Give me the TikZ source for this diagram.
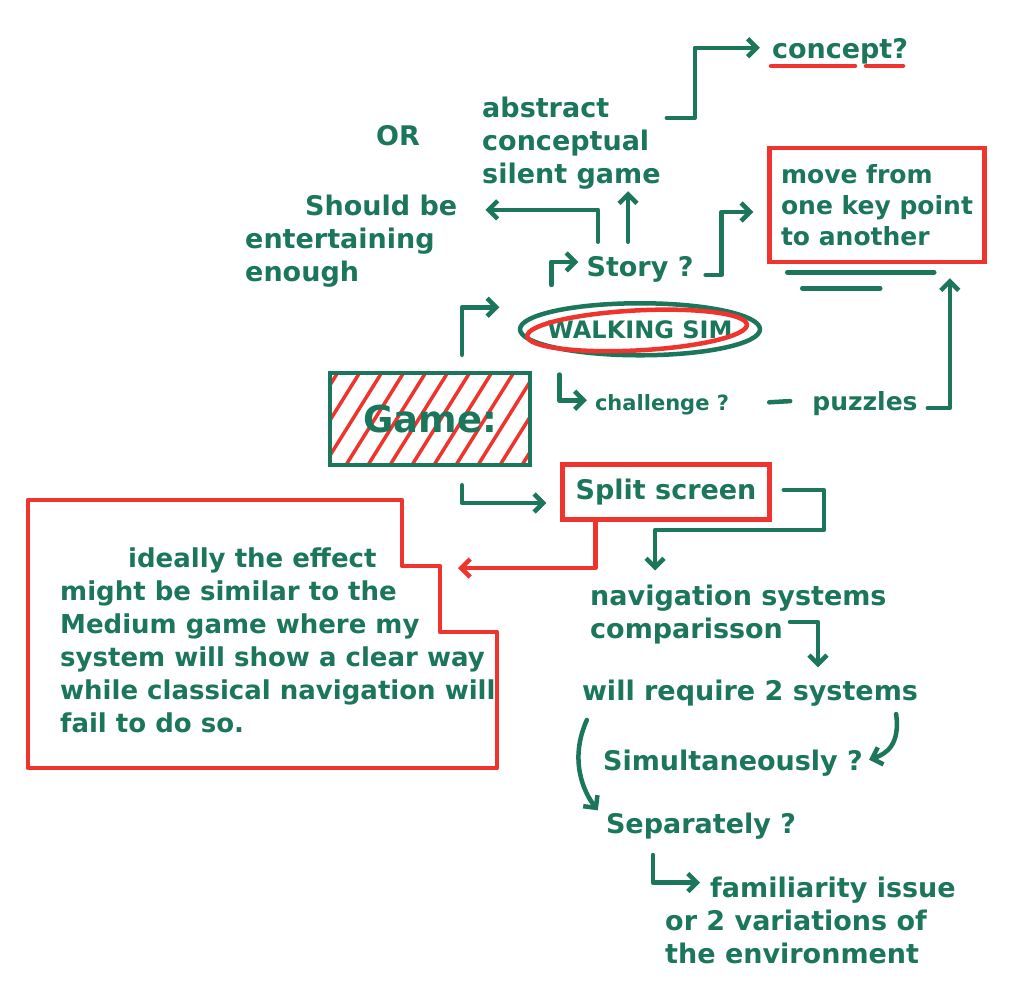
\documentclass[tikz,border=0pt]{standalone}
\usepackage{fontspec}
\setmainfont{DejaVu Sans}
\usetikzlibrary{arrows.meta,calc}
\definecolor{grn}{RGB}{27,118,92}
\definecolor{rd}{RGB}{238,52,44}
\begin{document}
\begin{tikzpicture}[x=1pt,y=-1pt,
  txt/.style={text=grn, inner sep=0pt, font=\fontsize{27}{33}\selectfont\bfseries},
  ln/.style={draw=grn, line width=4.5pt, line cap=round, line join=round},
  arr/.style={ln, -{Straight Barb[length=9pt,width=18pt]}},
  rln/.style={ln, draw=rd},
  rarr/.style={rln, -{Straight Barb[length=9pt,width=18pt]}},
  redbox/.style={draw=rd, line width=4.5pt, text=grn},
  gamebox/.style={draw=grn, line width=4.5pt, minimum width=200pt, minimum height=92pt,
    text=grn, font=\fontsize{37}{40}\selectfont\bfseries,
    path picture={\foreach \k in {0,...,11}{\draw[rd, line width=3.5pt]
      ($(path picture bounding box.south west)+(\k*22-50,0)$) -- ++(58:140pt);}}}
]
\fill[white] (0,0) rectangle (1024,985);
\useasboundingbox (0,0) rectangle (1024,985);

% nodes
\node[txt, anchor=base] (concept) at (840,58) {concept?};
\node[txt, anchor=base] (or) at (398,145) {OR};
\node[txt, anchor=north west, align=left] (abstract) at (482,96.5) {abstract\\conceptual\\silent game};
\node[txt, anchor=north west, align=left] (should) at (245,194.5) {\hspace*{60pt}Should be\\entertaining\\enough};
\node[txt, anchor=base] (story) at (640,276) {Story ?};
\node[redbox, align=left, minimum width=215pt, minimum height=114pt,
      font=\fontsize{25}{31}\selectfont\bfseries] (move) at (877,205) {move from\\one key point\\to another};
\node[txt, anchor=base, font=\fontsize{24}{28}\selectfont\bfseries] (walk) at (640,338) {WALKING SIM};
\node[txt, anchor=base, font=\fontsize{21}{25}\selectfont\bfseries] (chal) at (662,410) {challenge ?};
\node[txt, anchor=base, font=\fontsize{25}{30}\selectfont\bfseries] (puz) at (865,410) {puzzles};
\node[gamebox] (game) at (430,419) {Game:};
\node[redbox, minimum width=207pt, minimum height=55pt,
      font=\fontsize{27}{33}\selectfont\bfseries] (split) at (666,492) {Split screen};

\draw[rln] (28,500) -- (402,500) -- (402,566) -- (440,566) -- (440,632) -- (497,632) -- (497,768) -- (28,768) -- cycle;
\coordinate (boxin) at (458,568);
\node[txt, anchor=north west, align=left, font=\fontsize{26}{33}\selectfont\bfseries] (ideal) at (60,548)
  {\hspace*{68pt}ideally the effect\\might be similar to the\\Medium game where my\\system will show a clear way\\while classical navigation will\\fail to do so.};
\node[txt, anchor=north west, align=left] (nav) at (590,584.5) {navigation systems\\comparisson};
\node[txt, anchor=base] (will) at (750,700) {will require 2 systems};
\node[txt, anchor=base] (simult) at (733,770) {Simultaneously ?};
\node[txt, anchor=base] (sep) at (701,833) {Separately ?};
\node[txt, anchor=north west, align=left] (fam) at (665,876.5) {\hspace*{45pt}familiarity issue\\or 2 variations of\\the environment};

% decorations
\draw[rln] (771,66) -- (855,66);
\draw[rln] (866,66) -- (903,66);
\draw[ln] (walk.center) ellipse [x radius=120pt, y radius=26pt];
\draw[rln, rotate around={3:(walk.center)}] ($(walk.center)+(-3,1)$) ellipse [x radius=110pt, y radius=20pt];
\draw[ln] ($(move.south west)+(20,8)$) -- ++(147,0);
\draw[ln] ($(move.south west)+(35,24)$) -- ++(78,0);

% connectors
\draw[arr] ($(abstract.east)+(6,-25)$) -- ++(28,0) |- ($(concept.west)+(-12,-3)$);
\draw[arr] ($(story.north)+(-42,-14)$) |- ($(should.east)+(28,-31)$);
\draw[arr] ($(story.north)+(-12,-14)$) -- ($(story.north |- abstract.south)+(-12,2)$);
\draw[arr] ($(story.west)+(-35,16)$) |- ($(story.west)+(-8,-7)$);
\draw[arr] ($(story.east)+(12,6)$) -- ++(16,0) |- ($(move.west)+(-14,7)$);
\draw[arr] ($(puz.east)+(10,5)$) -| ($(move.south east)+(-37,14)$);
\draw[arr] ($(game.north)+(32,-16)$) |- ($(walk.west)+(-48,-22)$);
\draw[arr] ($(walk.south west)+(12,36)$) |- ($(chal.west)+(-8,-4)$);
\draw[ln] ($(chal.east)+(40,-2)$) -- ($(puz.west)+(-22,-2)$);
\draw[arr] ($(game.south)+(32,18)$) |- ($(split.west)+(-14,11)$);
\draw[arr] ($(split.east)+(12,-2)$) -- ++(40,0) -- ++(0,40) -| ($(nav.north west)+(65,-14)$);
\draw[rarr] ($(split.south west)+(35,0)$) |- (boxin);
\draw[arr] ($(nav.south west)+(200,-22)$) -| ($(will.north)+(68,-12)$);
\draw[arr] ($(will.south east)+(-22,8)$) .. controls +(4,30) and +(18,-6) .. ($(simult.east)+(6,-3)$);
\draw[arr] ($(will.south west)+(5,14)$) .. controls +(-18,40) and +(-14,-18) .. ($(sep.north west)+(-8,-2)$);
\draw[arr] ($(sep.south west)+(47,16)$) |- ($(fam.north west)+(35,6)$);
\end{tikzpicture}
\end{document}
